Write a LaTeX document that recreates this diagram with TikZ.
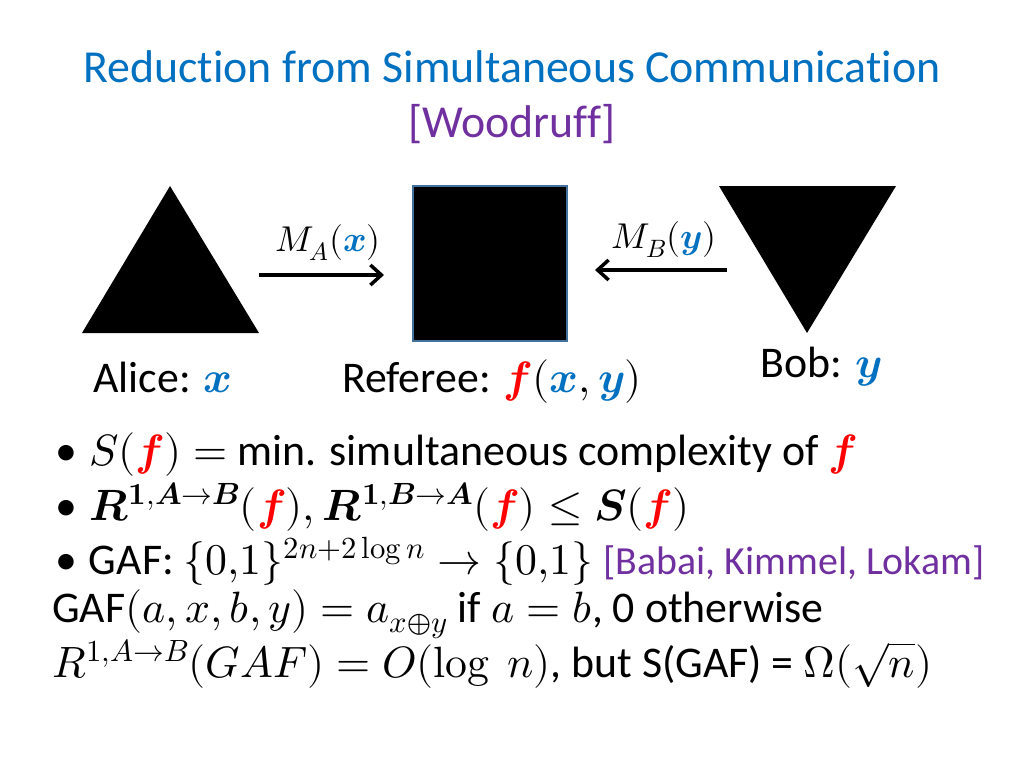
\documentclass[tikz,border=0pt]{standalone}
\usepackage{amsmath}
\usepackage{fontspec}
\usepackage{unicode-math}
\setmainfont{Carlito}[Ligatures=NoCommon]
\setmathfont{Latin Modern Math}
\usetikzlibrary{arrows.meta}
\definecolor{titleblue}{HTML}{0070C0}
\definecolor{citepurple}{HTML}{7030A0}
\definecolor{boxedge}{HTML}{41719C}
\newcommand{\bx}{\textcolor{titleblue}{\symbfit{x}}}
\newcommand{\by}{\textcolor{titleblue}{\symbfit{y}}}
\newcommand{\bff}{\textcolor{red}{\symbfit{f}}}
\newcommand{\mylog}{\mathop{\symup{log}}\nolimits}
\tikzset{
  big/.style={font=\fontsize{46}{55}\selectfont},
  body/.style={font=\fontsize{44}{52}\selectfont, anchor=base west, inner sep=0pt},
  lbl/.style={font=\fontsize{44}{52}\selectfont, anchor=base, inner sep=0pt},
  msg/.style={font=\fontsize{36}{42}\selectfont, inner sep=0pt},
  party/.style={fill=black},
  send/.style={line width=3.5bp, ->, >={Straight Barb[length=11bp,width=20bp]}}
}
\begin{document}
\begin{tikzpicture}[x=1bp,y=-1bp]
  \useasboundingbox (0,0) rectangle (1024,768);
  % title
  \node[big, titleblue, anchor=base, inner sep=0pt] (title) at (512,83) {Reduction from Simultaneous Communication};
  \node[big, citepurple, anchor=base, inner sep=0pt] (cite) at (512,137) {[Woodruff]};
  % players
  \fill[party] (170,186) -- (259,333) -- (82,333) -- cycle;
  \draw[boxedge, line width=2bp, fill=black] (413,186) rectangle (567,341);
  \fill[party] (719,186) -- (896,186) -- (807,333) -- cycle;
  \coordinate (alice) at (259,275);
  \coordinate (refl) at (384,275);
  \coordinate (refr) at (595,270);
  \coordinate (bob) at (727,270);
  \draw[send] (alice) -- (refl);
  \draw[send] (bob) -- (refr);
  \node[msg] (ma) at (328,243) {$M_A(\bx)$};
  \node[msg] (mb) at (664,240) {$M_B(\by)$};
  \node[lbl] (alicelbl) at (163,392) {Alice: $\bx$};
  \node[lbl] (reflbl) at (492,392) {Referee: $\bff(\bx,\by)$};
  \node[lbl] (boblbl) at (821,377) {Bob: $\by$};
  % bullets
  \node[body] (b1) at (55,465) {\textbullet\hspace{12bp}$S(\bff) =$ min. simultaneous complexity of $\bff$};
  \node[body] (b2) at (55,520) {\textbullet\hspace{12bp}$\symbfit{R}^{\symbf{1},\symbfit{A}\to\symbfit{B}}(\bff), \symbfit{R}^{\symbf{1},\symbfit{B}\to\symbfit{A}}(\bff) \le \symbfit{S}(\bff)$};
  \node[body] (b3) at (55,574) {\textbullet\hspace{12bp}GAF: $\{0{,}1\}^{2n+2\mylog n} \to \{0{,}1\}$ \textcolor{citepurple}{\fontsize{40}{48}\selectfont [Babai, Kimmel, Lokam]}};
  \node[body] (b4) at (52,622) {GAF$(a,x,b,y) = a_{x\oplus y}$ if $a=b$, 0 otherwise};
  \node[body] (b5) at (52,677) {$R^{1,A\to B}(GAF) = O(\mylog\ n)$, but S(GAF) = $\Omega(\sqrt{n})$};
\end{tikzpicture}
\end{document}
